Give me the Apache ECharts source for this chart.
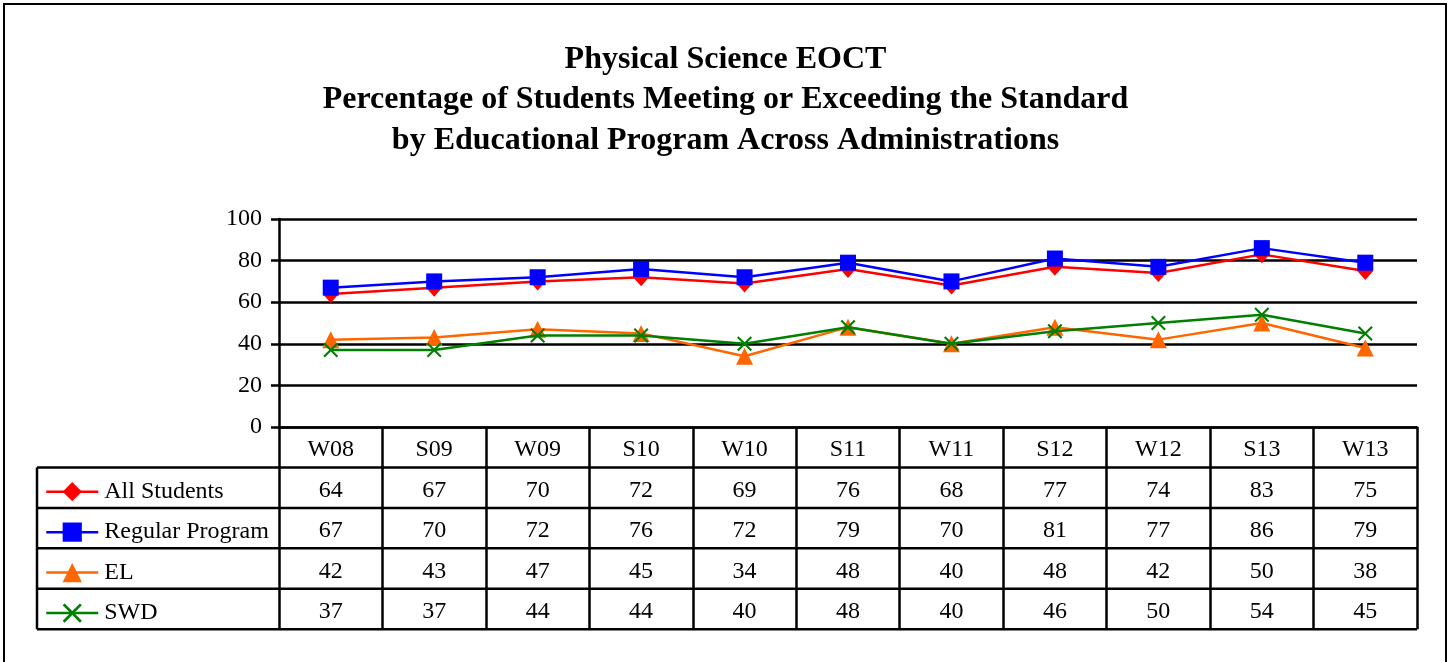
<!DOCTYPE html>
<html>
<head>
<meta charset="utf-8">
<script src="https://cdn.jsdelivr.net/npm/echarts@6/dist/echarts.min.js"></script>
<style>
html,body{margin:0;padding:0;background:#fff;}
#chart{width:1451px;height:662px;}
</style>
</head>
<body>
<div id="chart"></div>
<script>
const categories = ['W08','S09','W09','S10','W10','S11','W11','S12','W12','S13','W13'];
const allStudents = [64,67,70,72,69,76,68,77,74,83,75];
const regularProgram = [67,70,72,76,72,79,70,81,77,86,79];
const elValues = [42,43,47,45,34,48,40,48,42,50,38];
const swdValues = [37,37,44,44,40,48,40,46,50,54,45];
const seriesNames = ['All Students','Regular Program','EL','SWD'];
const yMin = 0, yMax = 100, yStep = 20;
const titleLines = ['Physical Science EOCT','Percentage of Students Meeting or Exceeding the Standard','by Educational Program Across Administrations'];

const FONT = '"Liberation Serif", "Times New Roman", serif';
const FS = 24;
const gridLeft = 279, gridTop = 219, gridWidth = 1138, gridHeight = 208;
const rowH = 40.45;
const tableLeft = 37;
const gridBottomY = gridTop + gridHeight;
const tableBottom = gridBottomY + rowH * 5;

const rows = [allStudents, regularProgram, elValues, swdValues];
const colors = ['#FF0000','#0000FF','#FF6600','#008000'];
const xPath = 'path://M0,2 L2,0 L10,8 L18,0 L20,2 L12,10 L20,18 L18,20 L10,12 L2,20 L0,18 L8,10 Z';
const symbols = ['diamond','rect','triangle', xPath];
const symbolSizes = [[16,18],16,17,15];

const chart = echarts.init(document.getElementById('chart'));

const xAxes = [{
  type:'category', data: categories, gridIndex:0, position:'bottom',
  boundaryGap:true,
  axisLine:{show:true, lineStyle:{color:'#000', width:2.5}},
  axisTick:{show:true, length: rowH*5, lineStyle:{color:'#000', width:2.5}},
  axisLabel:{interval:0, margin: rowH/2 + 2, verticalAlign:'middle', color:'#000', fontFamily:FONT, fontSize:FS}
}];
rows.forEach((arr, r) => {
  xAxes.push({
    type:'category', data: categories, gridIndex:0, position:'bottom',
    offset: rowH*(r+1.5) + 3,
    axisLine:{show:false}, axisTick:{show:false}, splitLine:{show:false},
    axisLabel:{interval:0, margin:0, verticalAlign:'middle', color:'#000', fontFamily:FONT, fontSize:FS,
      formatter:(v, i) => String(arr[i])}
  });
});

const graphics = [
  {type:'rect', shape:{x:4, y:4, width:1442, height:700}, style:{fill:'none', stroke:'#000', lineWidth:2}, silent:true}
];
for (let k = 1; k <= 5; k++) {
  const y = gridBottomY + rowH * k;
  graphics.push({type:'line', shape:{x1:tableLeft, y1:y, x2:gridLeft + gridWidth, y2:y}, style:{stroke:'#000', lineWidth:2.5}, silent:true});
}
graphics.push({type:'line', shape:{x1:tableLeft, y1:gridBottomY + rowH, x2:tableLeft, y2:tableBottom}, style:{stroke:'#000', lineWidth:2.5}, silent:true});

const option = {
  backgroundColor:'#fff',
  animation:false,
  title:{
    text: titleLines.join('\n'), left:'center', top:34,
    textStyle:{fontFamily:FONT, fontWeight:'bold', fontSize:32, lineHeight:40.5, color:'#000', align:'center'}
  },
  legend:{
    orient:'vertical', left:45, top: gridBottomY + rowH + rowH/2 - 12 + 4, padding:0,
    itemWidth:52, itemHeight:24, itemGap: rowH - 24,
    lineStyle:{width:2.5},
    textStyle:{fontFamily:FONT, fontSize:FS, lineHeight:24, color:'#000', padding:[0,0,0,1]},
    data: seriesNames, selectedMode:false
  },
  grid:{left:gridLeft, top:gridTop, width:gridWidth, height:gridHeight, containLabel:false},
  xAxis: xAxes,
  yAxis:{
    type:'value', min:yMin, max:yMax, interval:yStep,
    axisLine:{show:true, lineStyle:{color:'#000', width:2.5}},
    axisTick:{show:true, length:8, lineStyle:{color:'#000', width:2.5}},
    axisLabel:{margin:17, color:'#000', fontFamily:FONT, fontSize:FS},
    splitLine:{show:true, lineStyle:{color:'#000', width:2.5}}
  },
  series: rows.map((arr, i) => ({
    name: seriesNames[i], type:'line', data: arr, xAxisIndex:0,
    symbol: symbols[i], symbolSize: symbolSizes[i], showAllSymbol:true,
    lineStyle:{color:colors[i], width:2.5},
    itemStyle:{color:colors[i]},
    z: 3 + i
  })),
  graphic: graphics
};
chart.setOption(option);
</script>
</body>
</html>
